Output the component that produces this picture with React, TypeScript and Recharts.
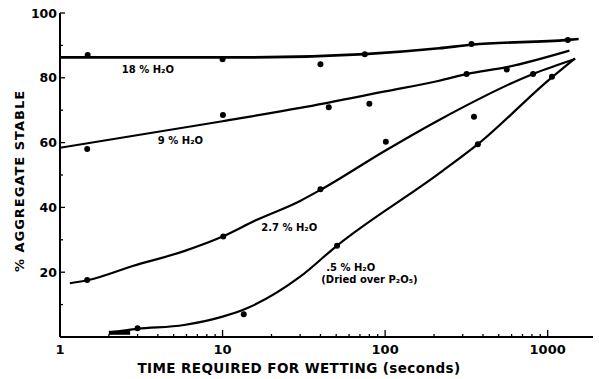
import React from 'react';
import { ComposedChart, Line, Scatter, XAxis, YAxis, ReferenceDot } from 'recharts';

const xTicks = [1, 2, 3, 4, 5, 6, 7, 8, 9, 10, 20, 30, 40, 50, 60, 70, 80, 90, 100, 200, 300, 400, 500, 600, 700, 800, 900, 1000];
const xMajor = [1, 10, 100, 1000];
const yTicks = [10, 20, 30, 40, 50, 60, 70, 80, 90, 100];
const yMajor = [20, 40, 60, 80, 100];

// 18 % H2O
const points18 = [
  { t: 1.48, v: 87.0 }, { t: 10, v: 85.7 }, { t: 40, v: 84.2 },
  { t: 75, v: 87.3 }, { t: 340, v: 90.4 }, { t: 1330, v: 91.7 },
];
const curve18 = [
  { t: 1, v: 86.3 }, { t: 15, v: 86.3 }, { t: 75, v: 87.3 }, { t: 215, v: 89.1 },
  { t: 340, v: 90.2 }, { t: 1330, v: 91.7 }, { t: 1550, v: 92.0 },
];

// 9 % H2O
const points9 = [
  { t: 1.47, v: 58.0 }, { t: 10.05, v: 68.5 }, { t: 45, v: 70.9 },
  { t: 80, v: 72.0 }, { t: 317, v: 81.2 }, { t: 560, v: 82.6 },
];
const curve9 = [
  { t: 1, v: 58.4 }, { t: 10, v: 66.6 }, { t: 30, v: 70.7 }, { t: 100, v: 75.8 },
  { t: 215, v: 79.1 }, { t: 320, v: 81.2 }, { t: 560, v: 83.3 }, { t: 1360, v: 88.4 },
];

// 2.7 % H2O
const points27 = [
  { t: 1.47, v: 17.6 }, { t: 10.1, v: 31.0 }, { t: 40, v: 45.6 },
  { t: 101, v: 60.3 }, { t: 352, v: 68.0 }, { t: 813, v: 81.2 },
];
const curve27 = [
  { t: 1.15, v: 16.6 }, { t: 1.5, v: 17.6 }, { t: 2.8, v: 21.9 }, { t: 5.8, v: 26.5 },
  { t: 10, v: 31.0 }, { t: 16, v: 36.0 }, { t: 30, v: 42.0 }, { t: 40, v: 45.4 },
  { t: 100, v: 57.5 }, { t: 215, v: 67.0 }, { t: 813, v: 81.2 }, { t: 1475, v: 85.8 },
];

// .5 % H2O (dried over P2O5)
const points05 = [
  { t: 3.0, v: 2.7 }, { t: 13.5, v: 7.0 }, { t: 50.6, v: 28.2 },
  { t: 372, v: 59.5 }, { t: 1062, v: 80.3 },
];
const curve05 = [
  { t: 2.0, v: 1.4 }, { t: 3.0, v: 2.5 }, { t: 5.8, v: 3.7 }, { t: 10, v: 6.3 },
  { t: 14, v: 8.8 }, { t: 30, v: 18.6 }, { t: 50, v: 28.0 }, { t: 215, v: 50.5 },
  { t: 372, v: 59.5 }, { t: 1014, v: 79.3 }, { t: 1474, v: 86.0 },
];
const bar05 = [{ t: 2.0, v: 1.3 }, { t: 2.7, v: 1.3 }];

const curveLabels = [
  { t: 2.4, v: 81.5, text: '18 % H₂O' },
  { t: 4.0, v: 59.6, text: '9 % H₂O' },
  { t: 17.3, v: 32.7, text: '2.7 % H₂O' },
  { t: 43.4, v: 20.4, text: '.5 % H₂O' },
  { t: 40.5, v: 16.7, text: '(Dried over P₂O₅)' },
];

const FONT = '"DejaVu Sans", sans-serif';

const XTick = (props: any) => {
  const { x, y, payload } = props;
  const major = xMajor.includes(payload.value);
  return (
    <g>
      <line x1={x} y1={y} x2={x} y2={y - (major ? 7 : 3)} stroke="#000" strokeWidth={1.3} />
      {major && (
        <text x={x} y={y + 17} textAnchor="middle" fontFamily={FONT} fontWeight="bold" fontSize={13} fill="#000">
          {payload.value}
        </text>
      )}
    </g>
  );
};

const YTick = (props: any) => {
  const { x, y, payload } = props;
  const major = yMajor.includes(payload.value);
  return (
    <g>
      <line x1={x} y1={y} x2={x + (major ? 5 : 3)} y2={y} stroke="#000" strokeWidth={1.3} />
      {major && (
        <text x={x - 3} y={y + 4.5} textAnchor="end" fontFamily={FONT} fontWeight="bold" fontSize={12.5} fill="#000">
          {payload.value}
        </text>
      )}
    </g>
  );
};

const Dot = (props: any) => <circle cx={props.cx} cy={props.cy} r={3} fill="#000" />;

export default function App() {
  const lineProps = {
    type: 'monotone' as const,
    dataKey: 'v',
    stroke: '#000',
    strokeWidth: 2.2,
    dot: false,
    activeDot: false,
    isAnimationActive: false,
  };
  return (
    <div style={{ position: 'absolute', left: 0, top: 0, background: '#fff' }}>
      <ComposedChart width={599} height={379} margin={{ top: 13, right: 6, left: 0, bottom: 0 }}>
        <XAxis
          dataKey="t"
          type="number"
          scale="log"
          domain={[1, 1900]}
          ticks={xTicks}
          interval={0}
          allowDataOverflow
          tickSize={0}
          tickMargin={0}
          tickLine={false}
          tick={<XTick />}
          axisLine={{ stroke: '#000', strokeWidth: 2 }}
          height={42}
        />
        <XAxis
          xAxisId="top"
          orientation="top"
          type="number"
          scale="log"
          domain={[1, 1900]}
          allowDataOverflow
          tick={false}
          tickLine={false}
          axisLine={{ stroke: '#000', strokeWidth: 2 }}
          height={0}
        />
        <YAxis
          type="number"
          domain={[0, 100]}
          ticks={yTicks}
          interval={0}
          tickSize={0}
          tickMargin={0}
          tickLine={false}
          tick={<YTick />}
          axisLine={{ stroke: '#000', strokeWidth: 2 }}
          width={60}
        />
        <YAxis
          yAxisId="right"
          orientation="right"
          type="number"
          domain={[0, 100]}
          tick={false}
          tickLine={false}
          axisLine={{ stroke: '#000', strokeWidth: 1.5 }}
          width={0}
        />
        <Line data={curve18} {...lineProps} strokeWidth={2.6} />
        <Line data={curve9} {...lineProps} />
        <Line data={curve27} {...lineProps} />
        <Line data={curve05} {...lineProps} />
        <Line data={bar05} {...lineProps} type="linear" strokeWidth={4} />
        <Scatter data={points18} dataKey="v" shape={<Dot />} isAnimationActive={false} />
        <Scatter data={points9} dataKey="v" shape={<Dot />} isAnimationActive={false} />
        <Scatter data={points27} dataKey="v" shape={<Dot />} isAnimationActive={false} />
        <Scatter data={points05} dataKey="v" shape={<Dot />} isAnimationActive={false} />
        {curveLabels.map((l) => (
          <ReferenceDot
            key={l.text}
            x={l.t}
            y={l.v}
            r={0}
            fill="none"
            stroke="none"
            label={{
              content: (p: any) => (
                <text
                  x={p.viewBox.x}
                  y={p.viewBox.y}
                  fontFamily={FONT}
                  fontWeight="bold"
                  fontSize={10}
                  fill="#000"
                >
                  {l.text}
                </text>
              ),
            }}
          />
        ))}
      </ComposedChart>
      <svg width={599} height={379} style={{ position: 'absolute', left: 0, top: 0, pointerEvents: 'none' }}>
        <text
          x={299}
          y={373}
          textAnchor="middle"
          fontFamily={FONT}
          fontWeight="bold"
          fontSize={13.5}
          letterSpacing={0.4}
          fill="#000"
        >
          TIME REQUIRED FOR WETTING (seconds)
        </text>
        <text
          x={0}
          y={0}
          transform="translate(24 181) rotate(-90)"
          textAnchor="middle"
          fontFamily={FONT}
          fontWeight="bold"
          fontSize={13}
          letterSpacing={1}
          fill="#000"
        >
          % AGGREGATE STABLE
        </text>
      </svg>
    </div>
  );
}
